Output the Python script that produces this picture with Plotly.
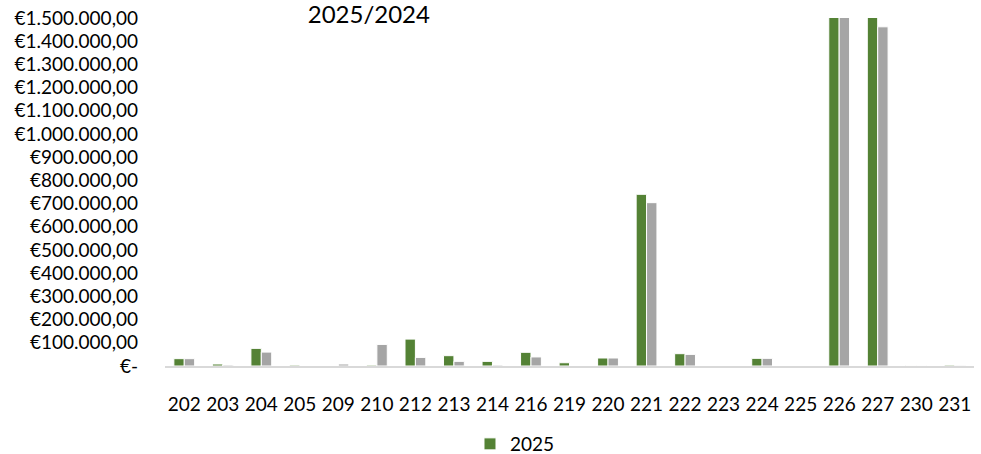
import plotly.graph_objects as go

categories = ["202", "203", "204", "205", "209", "210", "212", "213", "214", "216", "219",
              "220", "221", "222", "223", "224", "225", "226", "227", "230", "231"]
values_2025 = [31600, 8600, 76000, 4000, 0, 4000, 116000, 44500, 20000, 59000, 14000,
               34500, 740000, 53000, 0, 33000, 0, 1600000, 1600000, 2000, 4000]
values_2024 = [31600, 4300, 60000, 0, 8600, 93000, 37000, 20000, 4000, 39000, 0,
               34500, 704000, 50000, 0, 33000, 0, 1600000, 1462000, 2000, 3000]
tick_vals = [i * 100000 for i in range(16)]
tick_text = ["€-"] + ["€{:,}".format(v).replace(",", ".") + ",00" for v in tick_vals[1:]]
title_text = "2025/2024"

fig = go.Figure()
fig.add_trace(go.Bar(x=categories, y=values_2025, name="2025",
                     marker=dict(color="#548235", line=dict(color="white", width=1)),
                     showlegend=True))
fig.add_trace(go.Bar(x=categories, y=values_2024, name="2024",
                     marker=dict(color="#a5a5a5", line=dict(color="white", width=1)),
                     showlegend=False))

fig.update_layout(
    width=981, height=454,
    margin=dict(l=165, r=7, t=18, b=88, autoexpand=False),
    paper_bgcolor="white", plot_bgcolor="white",
    font=dict(family="Lato, Open Sans, sans-serif", size=19, color="black"),
    barmode="group", bargap=0.46, bargroupgap=0.0,
    title=dict(text=title_text, x=0.376, xanchor="center", yref="container",
               y=0.968, yanchor="middle", font=dict(size=24)),
    legend=dict(orientation="h", x=0.377, xanchor="left", yref="container",
                y=0.022, yanchor="middle", font=dict(size=19), itemwidth=30),
    xaxis=dict(showgrid=False, showline=True, linecolor="#d9d9d9", linewidth=2,
               ticks="", ticklabelstandoff=20, tickfont=dict(size=19), automargin=False),
    yaxis=dict(range=[0, 1500000], tickvals=tick_vals, ticktext=tick_text,
               showgrid=False, zeroline=False, showline=False, ticks="",
               ticklabelstandoff=26, tickfont=dict(size=19), automargin=False),
)

fig.write_html("out.html", config={"displayModeBar": False},
               post_script="document.body.style.margin='0';document.body.style.overflow='hidden';")
